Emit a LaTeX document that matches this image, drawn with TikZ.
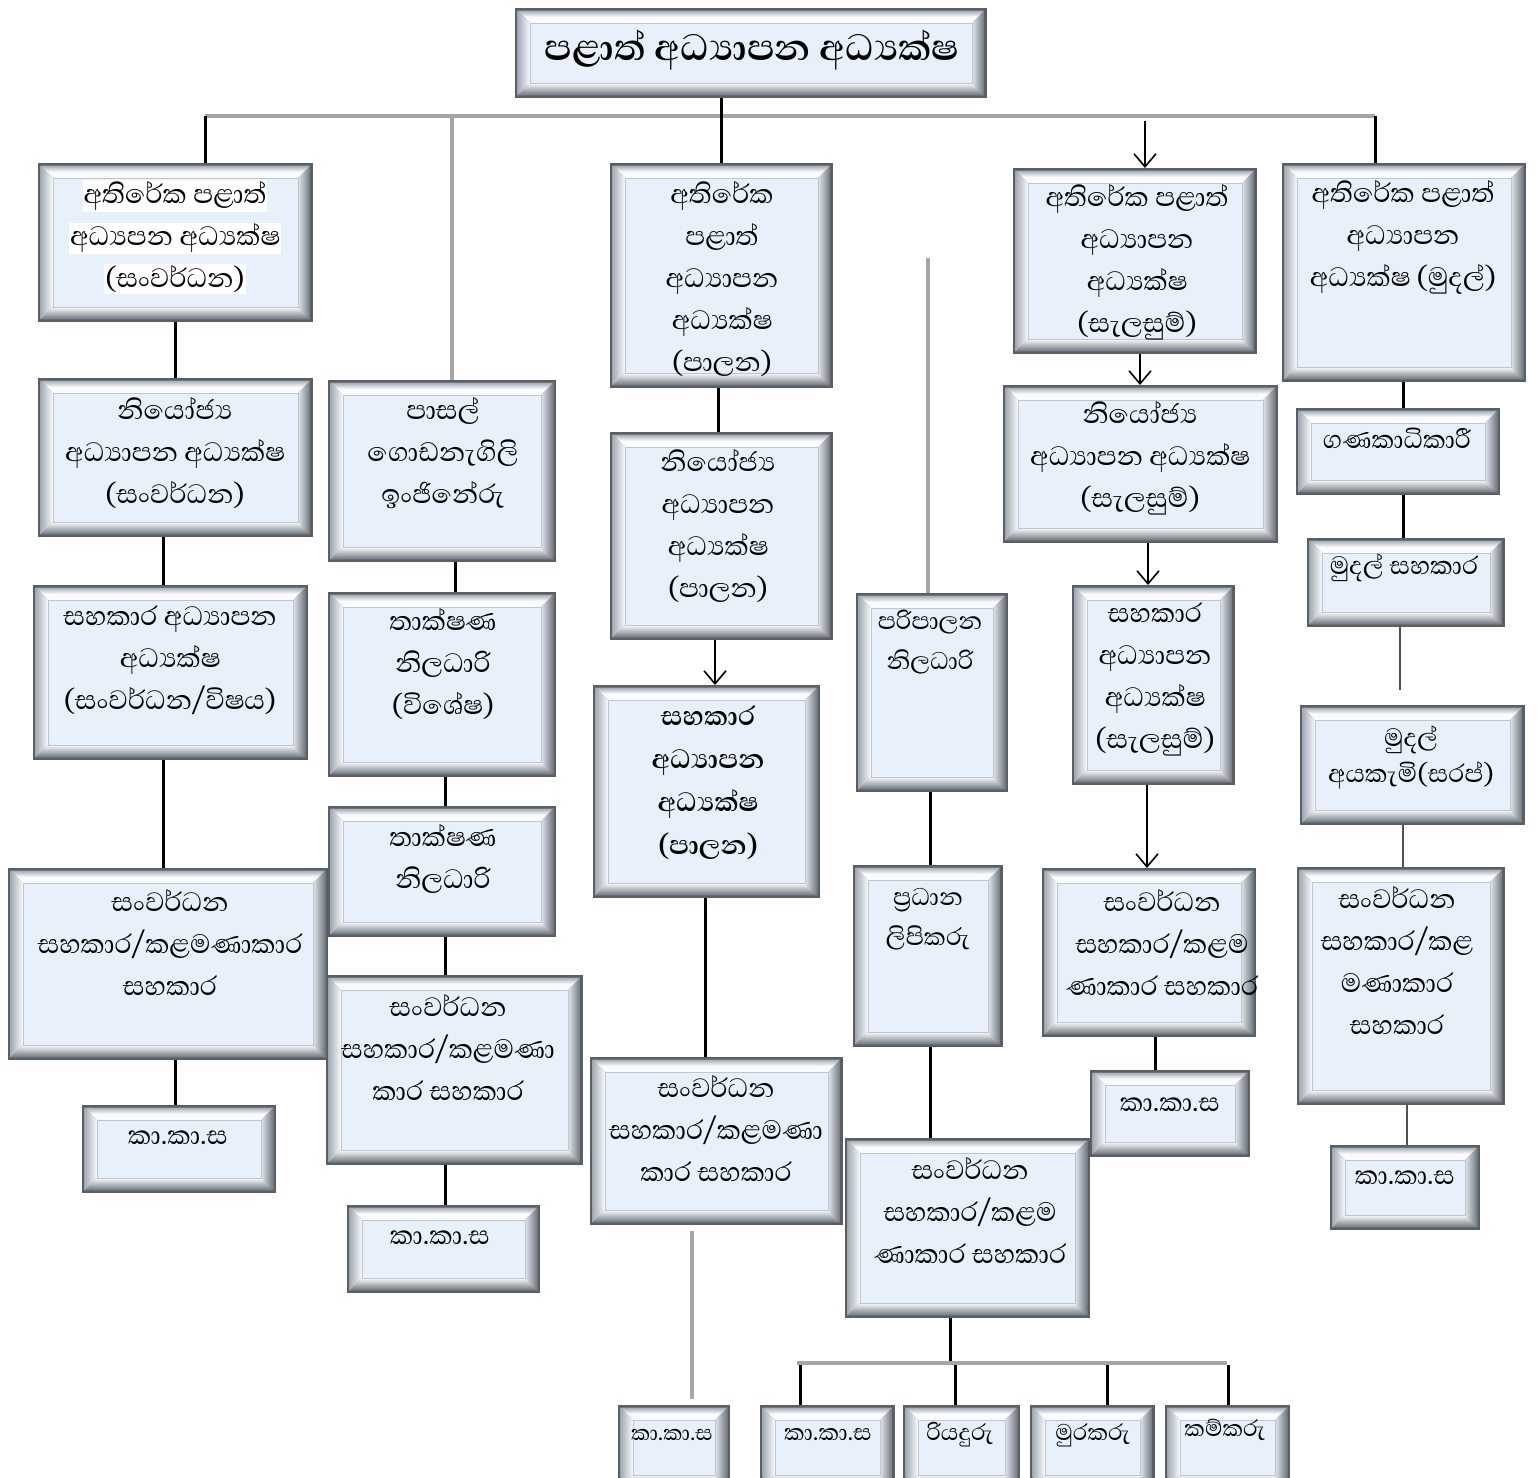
\documentclass[tikz,border=0pt]{standalone}
\usepackage{fontspec}
\usetikzlibrary{arrows.meta,calc}
\newfontfamily\sinfnt[Script=Sinhala]{Abhaya Libre}
\definecolor{edgeA}{HTML}{5A5F66}
\definecolor{lightOut}{HTML}{A3ABB5}
\definecolor{darkOut}{HTML}{6C737C}
\definecolor{lightIn}{HTML}{FAFBFC}
\definecolor{darkIn}{HTML}{E2E6EB}
\definecolor{faceC}{HTML}{E7F0FB}
\definecolor{innerL}{HTML}{BFC6D0}
\definecolor{barG}{HTML}{A6A6A6}
\definecolor{darkG}{HTML}{505050}
\tikzset{
  ebox/.style={rectangle, inner sep=0pt, outer sep=0pt, fill=edgeA,
    path picture={
      \coordinate (pNW) at ([shift={(2.5pt,-2.5pt)}]path picture bounding box.north west);
      \coordinate (pSE) at ([shift={(-2.5pt,2.5pt)}]path picture bounding box.south east);
      \coordinate (pNE) at (pSE |- pNW);
      \coordinate (pSW) at (pNW |- pSE);
      \coordinate (qNW) at ([shift={(15pt,-15pt)}]path picture bounding box.north west);
      \coordinate (qSE) at ([shift={(-15pt,15pt)}]path picture bounding box.south east);
      \coordinate (qNE) at (qSE |- qNW);
      \coordinate (qSW) at (qNW |- qSE);
      \begin{scope}
        \clip (pNW) -- (pNE) -- (qNE) -- (qNW) -- cycle;
        \shade[top color=lightOut, bottom color=lightIn, middle color=lightIn] (pNW) rectangle (pNE |- qNW);
      \end{scope}
      \begin{scope}
        \clip (pNW) -- (qNW) -- (qSW) -- (pSW) -- cycle;
        \shade[left color=lightOut, right color=lightIn] (pNW) rectangle (qNW |- pSW);
      \end{scope}
      \begin{scope}
        \clip (pNE) -- (pSE) -- (qSE) -- (qNE) -- cycle;
        \shade[left color=darkIn, right color=darkOut] (qNE |- pNE) rectangle (pSE);
      \end{scope}
      \begin{scope}
        \clip (pSW) -- (qSW) -- (qSE) -- (pSE) -- cycle;
        \shade[top color=lightIn, bottom color=darkOut] (pSW |- qSW) rectangle (pSE);
      \end{scope}
      \fill[faceC] (qNW) rectangle (qSE);
      \draw[innerL,line width=1pt] (qNW) rectangle (qSE);
    }},
  etext/.style={align=center, inner sep=0pt, font=\sinfnt\fontsize{34}{42}\selectfont},
  smalltext/.style={font=\sinfnt\fontsize{33}{42}\selectfont},
  midtext/.style={font=\sinfnt\fontsize{31}{40}\selectfont},
  gtext/.style={font=\sinfnt\fontsize{29}{36}\selectfont},
  blk/.style={line width=3pt, draw=black},
  gry/.style={line width=4pt, draw=barG},
  dgl/.style={line width=2.5pt, draw=darkG},
  arr/.style={line width=1.6pt, draw=black, -{Straight Barb[length=13pt,width=22pt]}}
}
\newcommand\ebox[9][]{%
  \pgfmathsetmacro\bw{#5-#3}%
  \pgfmathsetmacro\bh{#6-#4}%
  \pgfmathsetmacro\bx{(#3+#5)/2}%
  \pgfmathsetmacro\by{(#4+#6)/2}%
  \node[ebox,minimum width=\bw pt,minimum height=\bh pt] (#2) at (\bx,\by) {};
  \node[etext,#1] (#2t) at (#7,#8) {#9};
}
\newcommand\vcon[4][blk]{\coordinate (vx) at (#4,0); \draw[#1] (#2.south -| vx) -- (#3.north -| vx);}
\begin{document}
\begin{tikzpicture}[x=1pt,y=-1pt]
\fill[white] (0,0) rectangle (1537,1478);
\useasboundingbox (0,0) rectangle (1537,1478);
\setlength\fboxsep{1pt}
% top
\ebox[font=\sinfnt\bfseries\fontsize{47}{50}\selectfont]{top}{515}{8}{987}{98}{752}{50}{පළාත් අධ්^^^^200dයාපන අධ්^^^^200dයක්ෂ}
% column A
\ebox{A1}{38}{163}{313}{322}{175}{237}{\colorbox{white}{අතිරේක පළාත්}\\\colorbox{white}{අධ්^^^^200dයපන අධ්^^^^200dයක්ෂ}\\\colorbox{white}{(සංවර්ධන)}}
\ebox{A2}{38}{378}{313}{537}{175}{453}{නියෝජ්^^^^200dය\\අධ්^^^^200dයාපන අධ්^^^^200dයක්ෂ\\(සංවර්ධන)}
\ebox{A3}{33}{585}{308}{760}{170}{660}{සහකාර අධ්^^^^200dයාපන\\අධ්^^^^200dයක්ෂ\\(සංවර්ධන/විෂය)}
\ebox{A4}{8}{868}{328}{1060}{170}{942}{සංවර්ධන\\සහකාර/කළමණාකාර\\සහකාර}
\ebox[smalltext]{A5}{82}{1105}{276}{1193}{178}{1138}{කා.කා.ස}
% column B
\ebox{B1}{328}{380}{556}{562}{443}{453}{පාසල්\\ගොඩනැගිලි\\ඉංජිනේරු}
\ebox{B2}{328}{592}{556}{777}{443}{664}{තාක්ෂණ\\නිලධාරි\\(විශේෂ)}
\ebox{B3}{328}{806}{556}{937}{443}{859}{තාක්ෂණ\\නිලධාරි}
\ebox{B4}{326}{975}{583}{1165}{448}{1047}{සංවර්ධන\\සහකාර/කළමණා\\කාර සහකාර}
\ebox[smalltext]{B5}{347}{1205}{540}{1293}{440}{1238}{කා.කා.ස}
% column C
\ebox{C1}{610}{163}{833}{388}{722}{279}{අතිරේක\\පළාත්\\අධ්^^^^200dයාපන\\අධ්^^^^200dයක්ෂ\\(පාලන)}
\ebox{C2}{610}{432}{833}{640}{718}{526}{නියෝජ්^^^^200dය\\අධ්^^^^200dයාපන\\අධ්^^^^200dයක්ෂ\\(පාලන)}
\ebox[font=\sinfnt\bfseries\fontsize{34}{43}\selectfont]{C3}{593}{685}{820}{898}{708}{783}{සහකාර\\අධ්^^^^200dයාපන\\අධ්^^^^200dයක්ෂ\\(පාලන)}
\ebox{C4}{590}{1057}{843}{1225}{716}{1128}{සංවර්ධන\\සහකාර/කළමණා\\කාර සහකාර}
\ebox[font=\sinfnt\fontsize{27}{30}\selectfont]{C5}{618}{1405}{730}{1490}{672}{1435}{කා.කා.ස}
% column D
\ebox[midtext]{D1}{856}{593}{1008}{792}{930}{642}{පරිපාලන\\නිලධාරි}
\ebox[midtext]{D2}{853}{865}{1003}{1047}{928}{919}{ප්^^^^200dරධාන\\ලිපිකරු}
\ebox{D3}{845}{1138}{1090}{1318}{970}{1210}{සංවර්ධන\\සහකාර/කළම\\ණාකාර සහකාර}
\ebox[gtext]{G1}{760}{1405}{895}{1490}{828}{1435}{කා.කා.ස}
\ebox[gtext]{G2}{903}{1405}{1020}{1490}{960}{1435}{රියදුරු}
\ebox[gtext]{G3}{1030}{1405}{1155}{1490}{1093}{1435}{මුරකරු}
\ebox[gtext]{G4}{1165}{1405}{1290}{1490}{1225}{1430}{කම්කරු}
% column E
\ebox{E1}{1013}{168}{1257}{354}{1137}{262}{අතිරේක පළාත්\\අධ්^^^^200dයාපන\\අධ්^^^^200dයක්ෂ\\(සැලසුම්)}
\ebox{E2}{1003}{385}{1278}{543}{1140}{458}{නියෝජ්^^^^200dය\\අධ්^^^^200dයාපන අධ්^^^^200dයක්ෂ\\(සැලසුම්)}
\ebox{E3}{1072}{585}{1235}{785}{1155}{679}{සහකාර\\අධ්^^^^200dයාපන\\අධ්^^^^200dයක්ෂ\\(සැලසුම්)}
\ebox{E4}{1042}{868}{1256}{1037}{1162}{942}{සංවර්ධන\\සහකාර/කළම\\ණාකාර සහකාර}
\ebox[smalltext]{E5}{1090}{1070}{1250}{1157}{1170}{1105}{කා.කා.ස}
% column F
\ebox{F1}{1282}{163}{1526}{382}{1403}{237}{අතිරේක පළාත්\\අධ්^^^^200dයාපන\\අධ්^^^^200dයක්ෂ (මුදල්)}
\ebox[font=\sinfnt\fontsize{32}{40}\selectfont]{F2}{1296}{408}{1500}{495}{1397}{438}{ගණකාධිකාරී}
\ebox[font=\sinfnt\fontsize{32}{40}\selectfont]{F3}{1307}{538}{1505}{627}{1404}{568}{මුදල් සහකාර}
\ebox[font=\sinfnt\fontsize{32}{36}\selectfont]{F4}{1300}{705}{1525}{825}{1411}{757}{මුදල්\\අයකැමි(සරප්)}
\ebox{F5}{1297}{867}{1505}{1105}{1397}{960}{සංවර්ධන\\සහකාර/කළ\\මණාකාර\\සහකාර}
\ebox[smalltext]{F6}{1330}{1145}{1480}{1230}{1405}{1178}{කා.කා.ස}
% top bar
\coordinate (barL) at (205,116);
\coordinate (barR) at (1375,116);
\draw[gry] (barL) -- (barR);
\draw[blk] (C1.north |- top.south) -- (C1.north);
\draw[blk] (barL) -- (barL |- A1.north);
\coordinate (bB) at (452,116);
\draw[gry] (bB) -- (bB |- B1.north);
\coordinate (bE) at (1145,121);
\draw[arr] (bE) -- (bE |- E1.north);
\draw[blk] (barR) -- (barR |- F1.north);
\coordinate (dtop) at (928,258);
\draw[gry] (dtop) -- (dtop |- D1.north);
% column connectors
\vcon{A1}{A2}{175}
\vcon{A2}{A3}{163}
\vcon{A3}{A4}{163}
\vcon{A4}{A5}{175}
\vcon{B1}{B2}{455}
\vcon{B2}{B3}{445}
\vcon{B3}{B4}{445}
\vcon{B4}{B5}{445}
\vcon{C1}{C2}{718}
\vcon[arr]{C2}{C3}{715}
\vcon{C3}{C4}{705}
\vcon[gry,shorten <=6pt,shorten >=6pt]{C4}{C5}{692}
\vcon{D1}{D2}{930}
\vcon{D2}{D3}{930}
\vcon[arr]{E1}{E2}{1140}
\vcon[arr]{E2}{E3}{1148}
\vcon[arr]{E3}{E4}{1147}
\vcon{E4}{E5}{1155}
\vcon{F1}{F2}{1403}
\vcon{F2}{F3}{1403}
\vcon[dgl,shorten >=15pt]{F3}{F4}{1400}
\vcon[dgl]{F4}{F5}{1403}
\vcon[dgl]{F5}{F6}{1407}
% bottom bus
\coordinate (bus) at (950,1363);
\draw[blk] (D3.south -| bus) -- (bus);
\coordinate (busL) at (797,1363);
\coordinate (busR) at (1227,1363);
\draw[gry] (busL) -- (busR);
\coordinate (dr1) at (800,1365);
\coordinate (dr2) at (955,1365);
\coordinate (dr3) at (1107,1365);
\coordinate (dr4) at (1228,1365);
\draw[blk] (dr1) -- (dr1 |- G1.north);
\draw[blk] (dr2) -- (dr2 |- G2.north);
\draw[blk] (dr3) -- (dr3 |- G3.north);
\draw[blk] (dr4) -- (dr4 |- G4.north);
\end{tikzpicture}
\end{document}
